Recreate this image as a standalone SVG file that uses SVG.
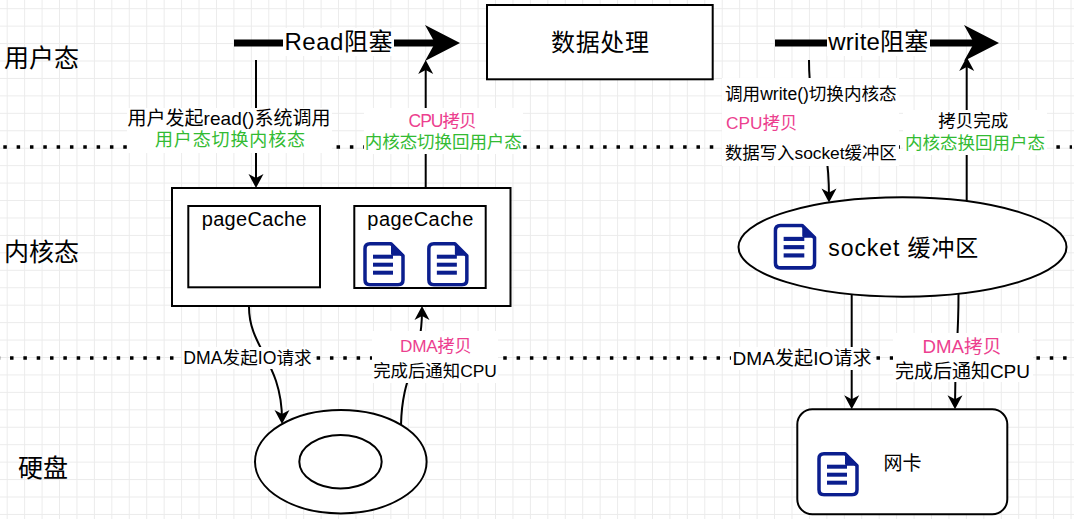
<svg xmlns="http://www.w3.org/2000/svg" width="1074" height="519" viewBox="0 0 1074 519">
<defs>
<style>
text { font-family: "Liberation Sans", "Noto Sans CJK SC", sans-serif; fill: #000; }
.c { text-anchor: middle; dominant-baseline: central; }
.s { text-anchor: start; dominant-baseline: central; }
.lane { font-size: 25px; }
.big { font-size: 24px; }
.pink { fill: #EC3F8F; }
.green { fill: #33BB33; }
.box { fill: #fff; stroke: #000; stroke-width: 2; }
.edge { fill: none; stroke: #000; stroke-width: 2; }
.thick { fill: none; stroke: #000; stroke-width: 7; }
.bg { fill: #fff; }
.dots { fill: none; stroke: #000; stroke-width: 3.5; stroke-dasharray: 3.5 9.83; }
</style>
<pattern id="grid" width="17.44" height="17.44" patternUnits="userSpaceOnUse" x="6.7" y="8.2">
<path d="M0,0.5 H17.44 M0.5,0 V17.44" fill="none" stroke="#ebebeb" stroke-width="1"/>
</pattern>
<marker id="arr" markerUnits="userSpaceOnUse" markerWidth="14" markerHeight="15" refX="10" refY="7.5" orient="auto" overflow="visible">
<path d="M0,0 L14,7.5 L0,15 L4,7.5 Z" fill="#000" stroke="none"/>
</marker>
<marker id="bigarr" markerUnits="userSpaceOnUse" markerWidth="35" markerHeight="36" refX="15" refY="18" orient="auto" overflow="visible">
<path d="M0,0 L35,18 L0,36 L10,18 Z" fill="#000" stroke="none"/>
</marker>
<symbol id="doc" viewBox="0 0 42 45">
<path d="M7,2 H28 L40,14 V38 Q40,43 35,43 H7 Q2,43 2,38 V7 Q2,2 7,2 Z" fill="#fff" stroke="#0B1E8E" stroke-width="3.5" stroke-linejoin="round"/>
<path d="M28,2 L40,14 H30 Q28,14 28,12 Z" fill="#0B1E8E"/>
<rect x="10" y="13" width="20" height="4" fill="#0B1E8E"/>
<rect x="10" y="21" width="20" height="4" fill="#0B1E8E"/>
<rect x="10" y="29" width="20" height="4" fill="#0B1E8E"/>
</symbol>
</defs>

<rect x="0" y="0" width="1074" height="519" fill="#fff"/>
<rect x="0" y="0" width="1074" height="519" fill="url(#grid)"/>

<g id="lanes">
<path class="dots" d="M3.3,147 H1072"/>
<path class="dots" d="M-3.3,358 H1072"/>
<text class="s lane" x="4" y="57.5">用户态</text>
<text class="s lane" x="4" y="252">内核态</text>
<text class="s lane" x="18" y="468">硬盘</text>
</g>

<g id="connectors">
<path class="thick" d="M234,43 H440" marker-end="url(#bigarr)"/>
<path class="thick" d="M775,43 H979" marker-end="url(#bigarr)"/>
<path class="edge" d="M256,60 V184" marker-end="url(#arr)"/>
<path class="edge" d="M425.7,188 V64" marker-end="url(#arr)"/>
<path class="edge" d="M249,307 C249,348 282,362 282,420" marker-end="url(#arr)"/>
<path class="edge" d="M401,425 C402,372 422,362 422,310" marker-end="url(#arr)"/>
<path class="edge" d="M809,60 C809,125 829,120 829,198.6" marker-end="url(#arr)"/>
<path class="edge" d="M966.7,202 V61" marker-end="url(#arr)"/>
<path class="edge" d="M851.7,294 V405.3" marker-end="url(#arr)"/>
<path class="edge" d="M958.5,294 C958.5,345 955,350 955,405.3" marker-end="url(#arr)"/>

<g id="label-read">
<rect class="bg" x="283" y="28" width="111" height="28"/>
<text class="c big" x="338.5" y="41" textLength="108">Read阻塞</text>
</g>
<g id="label-write">
<rect class="bg" x="827" y="28" width="103" height="28"/>
<text class="c big" x="878.3" y="41" textLength="100">write阻塞</text>
</g>
<g id="label-syscall">
<rect class="bg" x="127" y="108" width="205" height="45"/>
<text class="c" x="229" y="118" font-size="19" textLength="203">用户发起read()系统调用</text>
<text class="c green" x="230" y="140" font-size="18" textLength="150">用户态切换内核态</text>
</g>
<g id="label-cpu-copy">
<rect class="bg" x="364" y="108" width="159" height="46"/>
<text class="c pink" x="442.5" y="120.8" font-size="17.5" textLength="68">CPU拷贝</text>
<text class="c green" x="443.3" y="141.7" font-size="17.5" textLength="157">内核态切换回用户态</text>
</g>
<g id="label-write-call">
<rect class="bg" x="722" y="78" width="177" height="88"/>
<text class="s" x="725" y="93.8" font-size="17.6" textLength="171.7">调用write()切换内核态</text>
<text class="s pink" x="726" y="123.3" font-size="17.3" textLength="71.3">CPU拷贝</text>
<text class="s" x="725" y="153.3" font-size="17.4" textLength="171.7">数据写入socket缓冲区</text>
</g>
<g id="label-copy-done">
<rect class="bg" x="903" y="110" width="144" height="45"/>
<text class="c" x="973.3" y="120.8" font-size="17.5" textLength="70">拷贝完成</text>
<text class="c green" x="975" y="142.5" font-size="17.5" textLength="140">内核态换回用户态</text>
</g>
<g id="label-dma-io-left">
<rect class="bg" x="182" y="347" width="131" height="22"/>
<text class="c" x="247.5" y="358.3" font-size="17.6" textLength="128.4">DMA发起IO请求</text>
</g>
<g id="label-dma-copy-left">
<rect class="bg" x="372" y="331" width="126" height="52"/>
<text class="c pink" x="435.8" y="346" font-size="17.2" textLength="71.7">DMA拷贝</text>
<text class="c" x="435" y="371" font-size="17.4" textLength="123.7">完成后通知CPU</text>
</g>
<g id="label-dma-io-right">
<rect class="bg" x="731" y="347" width="142" height="23"/>
<text class="c" x="802" y="358.3" font-size="19" textLength="139">DMA发起IO请求</text>
</g>
<g id="label-dma-copy-right">
<rect class="bg" x="893" y="333" width="140" height="49"/>
<text class="c pink" x="962" y="346" font-size="18.7" textLength="79">DMA拷贝</text>
<text class="c" x="962.5" y="371" font-size="19" textLength="135">完成后通知CPU</text>
</g>
</g>

<g id="data-process">
<rect class="box" x="487" y="5" width="225.7" height="74.3"/>
<text class="c big" x="600" y="42.5" textLength="98">数据处理</text>
</g>

<g id="kernel-pagecache">
<rect class="box" x="172" y="188" width="338.5" height="118"/>
<g id="pagecache-empty">
<rect class="box" x="188.3" y="206" width="131.7" height="81.3"/>
<text x="254.2" y="226" font-size="20" text-anchor="middle" textLength="105">pageCache</text>
</g>
<g id="pagecache-data">
<rect class="box" x="354.3" y="206" width="131.4" height="82"/>
<text x="420.3" y="226" font-size="20" text-anchor="middle" textLength="106">pageCache</text>
<use href="#doc" x="363" y="241.7" width="42" height="45"/>
<use href="#doc" x="426.7" y="241.7" width="42.3" height="45"/>
</g>
</g>

<g id="socket-buffer">
<ellipse class="box" cx="902.5" cy="247" rx="164" ry="49.7"/>
<use href="#doc" x="773.3" y="223.3" width="43.4" height="46.7"/>
<text class="s" x="828.3" y="247.5" font-size="23" textLength="150">socket 缓冲区</text>
</g>

<g id="disk">
<ellipse class="box" cx="340.8" cy="461.7" rx="85.8" ry="51.7"/>
<ellipse class="box" cx="340.5" cy="461.7" rx="41.2" ry="26.7"/>
</g>

<g id="nic">
<rect class="box" x="797.3" y="409.3" width="210" height="105" rx="15"/>
<use href="#doc" x="816.7" y="451.7" width="42.6" height="45"/>
<text class="c" x="902.5" y="463.5" font-size="19" textLength="38">网卡</text>
</g>
</svg>
